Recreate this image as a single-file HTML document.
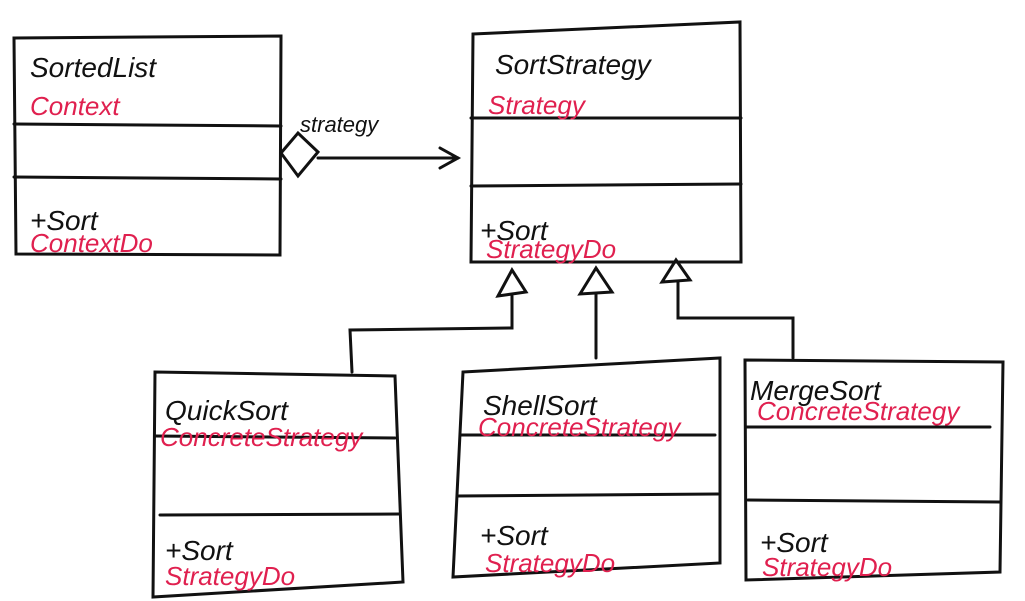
<!DOCTYPE html>
<html><head><meta charset="utf-8"><style>
html,body{margin:0;padding:0;background:#fff;}
svg{display:block}
text{font-family:"Liberation Sans",sans-serif;font-style:italic}
.k{fill:#111;font-size:28px}
.r{fill:#e0204f;font-size:26px}
</style></head><body>
<svg width="1025" height="601" viewBox="0 0 1025 601" xmlns="http://www.w3.org/2000/svg">
<g fill="none" stroke="#111" stroke-width="3" stroke-linecap="round">
<path d="M14 38 L281 36 L280 255 L16 254 Z"/>
<path d="M14 124 L281 126"/><path d="M14 177 L281 179"/>
<path d="M473 34 L740 22 L741 262 L471 262 Z"/>
<path d="M471 118 L741 118"/><path d="M471 186 L741 184"/>
<path d="M155 372 L395 376 L403 582 L153 597 Z"/>
<path d="M155 436 L395 438"/><path d="M160 515 L400 514"/>
<path d="M463 372 L720 358 L720 563 L453 577 Z"/>
<path d="M460 435 L715 435"/><path d="M457 496 L718 494"/>
<path d="M745 360 L1003 362 L1000 572 L746 580 Z"/>
<path d="M746 427 L990 427"/><path d="M748 500 L1000 502"/>
<path d="M281 153 L298 133 L318 152 L298 176 Z"/>
<path d="M318 158 L458 158"/><path d="M440 148 L458 158 L440 168"/>
<path d="M352 372 L350 330 L512 328 L512 296"/>
<path d="M498 296 L512 270 L526 292 Z"/>
<path d="M596 358 L596 294"/>
<path d="M580 294 L596 268 L612 292 Z"/>
<path d="M793 358 L793 318 L678 318 L678 282"/>
<path d="M662 282 L676 260 L690 280 Z"/>
</g>
<text class="k" x="30" y="77">SortedList</text>
<text class="r" x="30" y="115">Context</text>
<text class="k" x="30" y="230">+Sort</text>
<text class="r" x="30" y="252">ContextDo</text>
<text fill="#111" style="font-size:22px" x="300" y="132">strategy</text>
<text class="k" x="495" y="74">SortStrategy</text>
<text class="r" x="488" y="114">Strategy</text>
<text class="k" x="480" y="240">+Sort</text>
<text class="r" x="486" y="258">StrategyDo</text>
<text class="k" x="165" y="420">QuickSort</text>
<text class="r" x="160" y="446">ConcreteStrategy</text>
<text class="k" x="165" y="560">+Sort</text>
<text class="r" x="165" y="585">StrategyDo</text>
<text class="k" x="483" y="415">ShellSort</text>
<text class="r" x="478" y="436">ConcreteStrategy</text>
<text class="k" x="480" y="545">+Sort</text>
<text class="r" x="485" y="572">StrategyDo</text>
<text class="k" x="750" y="400">MergeSort</text>
<text class="r" x="757" y="420">ConcreteStrategy</text>
<text class="k" x="760" y="552">+Sort</text>
<text class="r" x="762" y="576">StrategyDo</text>
</svg>
</body></html>
